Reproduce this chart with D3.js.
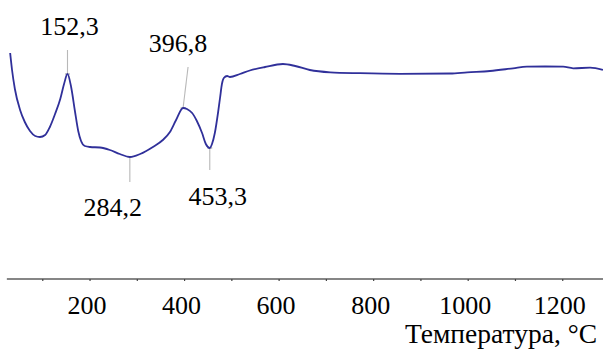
<!DOCTYPE html>
<html>
<head>
<meta charset="utf-8">
<script src="https://cdn.jsdelivr.net/npm/d3@7/dist/d3.min.js"></script>
<style>
  html, body { margin: 0; padding: 0; background: #fff; }
</style>
</head>
<body>
<svg id="chart" width="603" height="352" font-family="Liberation Serif, Tinos, Times New Roman, serif"></svg>
<script>
// DTA curve: temperature (°C) and signal (arbitrary units)
const temperature = [31, 35, 41, 52, 62, 73, 84, 94, 105, 115, 126, 137, 145, 152.3, 160, 168, 175, 181, 189,
  200, 221, 242, 263, 284.2, 306, 333, 354, 369, 382, 396.8, 405, 416, 426, 437, 445, 453.3, 458, 464, 471,
  475, 479, 483, 490, 496, 517, 538, 570, 608, 634, 665, 708, 771, 856, 962, 998, 1046, 1095, 1124, 1163,
  1201, 1222, 1258, 1285];
const signal = [226, 209, 190, 169, 157, 148, 143, 142, 144, 152, 165, 180, 195, 205, 192, 168, 148, 138, 133,
  132, 131.5, 129, 125, 122, 125, 132, 139, 147, 159, 171, 170, 166, 158, 146, 135, 131, 135, 146, 167,
  181, 195, 201, 203, 202, 205, 208.5, 212, 215, 213, 209, 206.7, 205.8, 205.2, 205.5, 206.7, 208, 210.7, 212.3, 212.5,
  212.3, 210.7, 211.3, 209];

// Marked extrema
const peakTemps = [152.3, 284.2, 396.8, 453.3];
const peakLabels = ["152,3", "284,2", "396,8", "453,3"];

// Axis ticks
const minorTicks = [100, 200, 300, 400, 500, 600, 700, 800, 900, 1000, 1100, 1200];
const tickLabels = [200, 400, 600, 800, 1000, 1200];
const axisTitle = "Температура, °C";

const W = 603;
const axisY = 279;
const svg = d3.select("#chart");

const xScale = d3.scaleLinear().domain([0, 1300]).range([-4.5, 610]);
const yScale = d3.scaleLinear().domain([0, 279]).range([279, 0]);

// Callout layout per extremum: leader end and label placement relative to the point
const callout = {
  "152,3": { lx: 0,  ly: -24, tx: 2,   ty: -39 },
  "284,2": { lx: 0,  ly: 25,  tx: -17, ty: 59 },
  "396,8": { lx: 5,  ly: -41, tx: -5,  ty: -56 },
  "453,3": { lx: 0,  ly: 22,  tx: 8,   ty: 57 }
};

const serif = "Liberation Serif";

// Curve
const pts = temperature.map((t, i) => ({ t, s: signal[i] }));
const lineGen = d3.line()
  .x(d => xScale(d.t))
  .y(d => yScale(d.s))
  .curve(d3.curveMonotoneX);

// Bottom axis
svg.append("line")
  .attr("x1", xScale(24)).attr("x2", W)
  .attr("y1", axisY).attr("y2", axisY)
  .attr("stroke", "#5e5e5e").attr("stroke-width", 1.6);

svg.append("g").selectAll("line").data(minorTicks).join("line")
  .attr("x1", d => xScale(d)).attr("x2", d => xScale(d))
  .attr("y1", axisY).attr("y2", axisY + 2)
  .attr("stroke", "#444").attr("stroke-width", 1.2);

svg.selectAll("text.tick").data(tickLabels).join("text")
  .attr("class", "tick")
  .attr("x", d => xScale(d) - 3)
  .attr("y", 314)
  .attr("text-anchor", "middle")
  .attr("font-family", serif)
  .attr("font-size", 26)
  .text(d => d);

svg.append("text")
  .attr("x", 597).attr("y", 343)
  .attr("text-anchor", "end")
  .attr("font-family", serif)
  .attr("font-size", 27.5)
  .text(axisTitle);

// Leader lines and labels
const peaks = peakTemps.map((t, i) => {
  const p = pts.find(d => d.t === t);
  return { t, s: p.s, label: peakLabels[i] };
});

peaks.forEach(p => {
  const c = callout[p.label];
  const px = xScale(p.t), py = yScale(p.s);
  svg.append("line")
    .attr("x1", px).attr("y1", py)
    .attr("x2", px + c.lx).attr("y2", py + c.ly)
    .attr("stroke", "#b8b8b8").attr("stroke-width", 1.1);
  svg.append("line")
    .attr("x1", px - 2.5).attr("x2", px + 2.5)
    .attr("y1", py).attr("y2", py)
    .attr("stroke", "#9a9a9a").attr("stroke-width", 1);
  svg.append("text")
    .attr("x", px + c.tx).attr("y", py + c.ty)
    .attr("text-anchor", "middle")
    .attr("font-family", serif)
    .attr("font-size", 26)
    .text(p.label);
});

svg.append("path")
  .datum(pts)
  .attr("d", lineGen)
  .attr("fill", "none")
  .attr("stroke", "#30309a")
  .attr("stroke-width", 1.8)
  .attr("stroke-linejoin", "round");
</script>
</body>
</html>
